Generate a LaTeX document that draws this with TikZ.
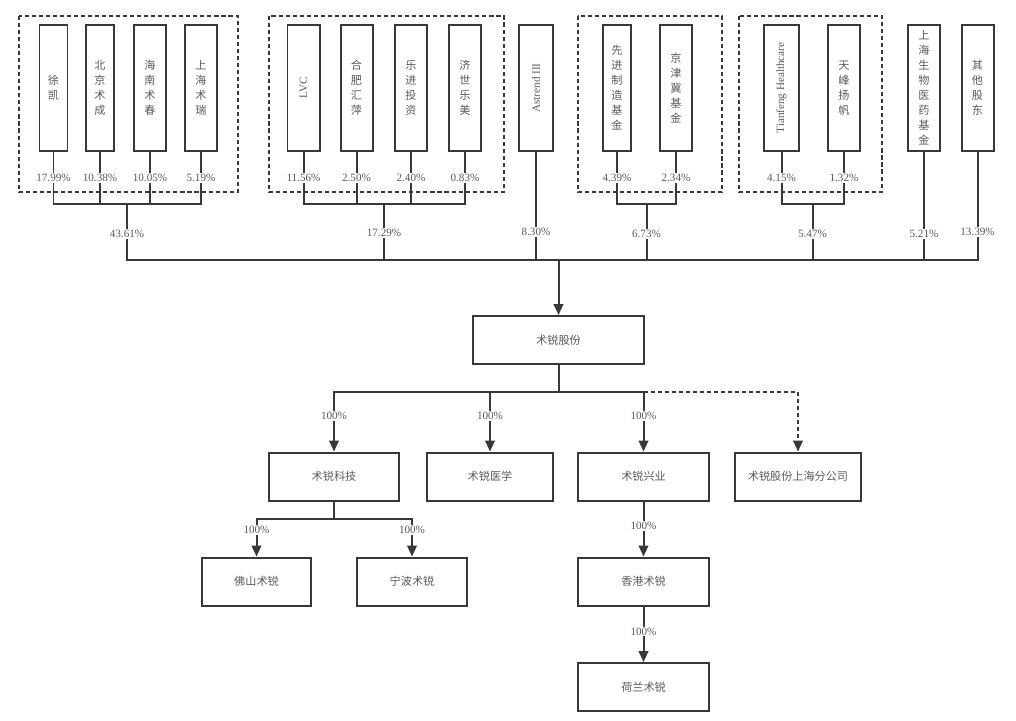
\documentclass[tikz,border=0pt]{standalone}
\usepackage{fontspec}
\usepackage{graphicx}
\setmainfont{Liberation Serif}
\newfontfamily\cjk{Noto Sans CJK SC}
\usetikzlibrary{arrows.meta}
\colorlet{ln}{black!78}
\colorlet{txt}{black!65}

\begin{document}
\begin{tikzpicture}[x=0.03cm,y=-0.03cm,line width=1.7pt,>={Triangle[length=3.3mm,width=2.9mm]},
    holder/.style={draw=ln,text=txt,minimum width=0.96cm,minimum height=3.78cm,inner sep=0pt,align=center,font=\cjk\fontsize{9.5}{12.8}\selectfont},
    latin/.style={font=\fontsize{9.5}{11}\selectfont},
    firm/.style={draw=ln,text=txt,minimum height=1.44cm,inner sep=0pt,font=\cjk\fontsize{9.5}{12}\selectfont},
    pct/.style={fill=white,text=txt,inner sep=1pt,font=\fontsize{9.5}{11}\selectfont},
    grp/.style={draw=ln,dash pattern=on 3.5pt off 2.5pt}]
    \useasboundingbox (0,0) rectangle (1016,720);

    % groups
    \draw[grp] (19,16) rectangle (238,192);
    \draw[grp] (269,16) rectangle (504,192);
    \draw[grp] (578,16) rectangle (722,192);
    \draw[grp] (739,16) rectangle (882,192);

    % shareholders
    \node[holder,minimum width=0.84cm] (xk) at (53.5,88) {徐\\凯};
    \node[holder,minimum width=0.84cm] (bjsc) at (100,88) {北\\京\\术\\成};
    \node[holder] (hnsc) at (150,88) {海\\南\\术\\春};
    \node[holder] (shsr) at (201,88) {上\\海\\术\\瑞};
    \node[holder,latin] (lvc) at (303.5,88) {\rotatebox{90}{LVC}};
    \node[holder] (hfhp) at (356.5,88) {合\\肥\\汇\\萍};
    \node[holder] (ljtz) at (411,88) {乐\\进\\投\\资};
    \node[holder] (jslm) at (465,88) {济\\世\\乐\\美};
    \node[holder,latin,minimum width=1.02cm] (ast) at (536,88) {\rotatebox{90}{Astrend III}};
    \node[holder,minimum width=0.84cm] (xjzz) at (617,88) {先\\进\\制\\造\\基\\金};
    \node[holder] (jjj) at (676,88) {京\\津\\冀\\基\\金};
    \node[holder,latin,minimum width=1.05cm] (tf) at (781.5,88) {\rotatebox{90}{Tianfeng Healthcare}};
    \node[holder] (tfyf) at (844,88) {天\\峰\\扬\\帆};
    \node[holder] (shsw) at (924,88) {上\\海\\生\\物\\医\\药\\基\\金};
    \node[holder] (qt) at (977.5,88) {其\\他\\股\\东};

    \coordinate (g1) at (127,204);
    \coordinate (g2) at (384,204);
    \coordinate (g3) at (646.5,204);
    \coordinate (g4) at (812.5,204);
    \coordinate (hub) at (558.5,260);

    \foreach \n/\v in {xk/17.99,bjsc/10.38,hnsc/10.05,shsr/5.19}
        \draw[ln] (\n.south) |- node[pct,pos=0.25]{\v\%} (g1);
    \foreach \n/\v in {lvc/11.56,hfhp/2.50,ljtz/2.40,jslm/0.83}
        \draw[ln] (\n.south) |- node[pct,pos=0.25]{\v\%} (g2);
    \foreach \n/\v in {xjzz/4.39,jjj/2.34}
        \draw[ln] (\n.south) |- node[pct,pos=0.25]{\v\%} (g3);
    \foreach \n/\v in {tf/4.15,tfyf/1.32}
        \draw[ln] (\n.south) |- node[pct,pos=0.25]{\v\%} (g4);

    \draw[ln] (g1) |- node[pct,pos=0.27]{43.61\%} (hub);
    \draw[ln] (g2) |- node[pct,pos=0.26]{17.29\%} (hub);
    \draw[ln] (ast.south) |- node[pct,pos=0.37]{8.30\%} (hub);
    \draw[ln] (g3) |- node[pct,pos=0.27]{6.73\%} (hub);
    \draw[ln] (g4) |- node[pct,pos=0.27]{5.47\%} (hub);
    \draw[ln] (shsw.south) |- node[pct,pos=0.38]{5.21\%} (hub);
    \draw[ln] (qt.south) |- node[pct,pos=0.37]{13.39\%} (hub);

    % company
    \node[firm,minimum width=5.13cm] (top) at (558.5,340) {术锐股份};
    \draw[ln,->] (hub) -- (top.north);

    \node[firm,minimum width=3.9cm] (tech) at (334,476.5) {术锐科技};
    \node[firm,minimum width=3.78cm] (med) at (490,476.5) {术锐医学};
    \node[firm,minimum width=3.93cm] (xing) at (643.5,476.5) {术锐兴业};
    \node[firm,minimum width=3.78cm] (br) at (798,476.5) {术锐股份上海分公司};

    \coordinate (j2) at (558.5,392);
    \draw[ln] (top.south) -- (j2);
    \foreach \n in {tech,med,xing}
        \draw[ln,->] (j2) -| node[pct,pos=0.7]{100\%} (\n.north);
    \draw[ln,->,dash pattern=on 3.5pt off 2.5pt] (xing.north |- j2) -| (br.north); %branch

    \node[firm,minimum width=3.27cm] (fs) at (256.5,581.5) {佛山术锐};
    \node[firm,minimum width=3.3cm] (nb) at (412,581.5) {宁波术锐};
    \node[firm,minimum width=3.93cm] (hk) at (643.5,581.5) {香港术锐};
    \node[firm,minimum width=3.93cm] (nl) at (643.5,687) {荷兰术锐};

    \coordinate (j3) at (334,519);
    \draw[ln] (tech.south) -- (j3);
    \foreach \n in {fs,nb}
        \draw[ln,->] (j3) -| node[pct,pos=0.65]{100\%} (\n.north);
    \draw[ln,->] (xing.south) -- node[pct,pos=0.45]{100\%} (hk.north);
    \draw[ln,->] (hk.south) -- node[pct,pos=0.45]{100\%} (nl.north);
\end{tikzpicture}
\end{document}
